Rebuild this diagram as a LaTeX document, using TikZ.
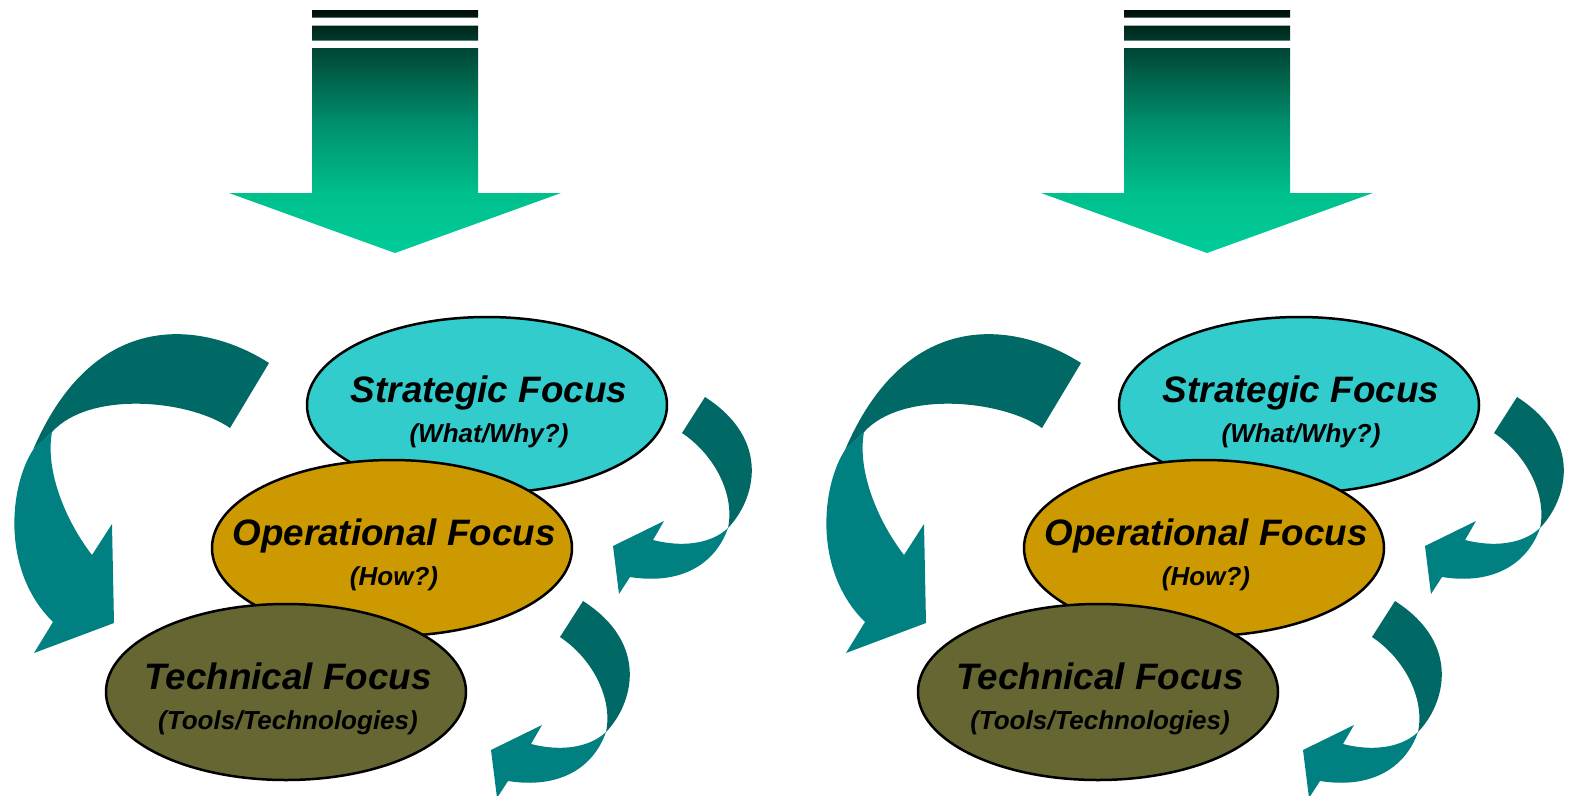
\documentclass[tikz,border=0pt]{standalone}
\usepackage{fontspec}
\setmainfont{Liberation Sans}
\usetikzlibrary{shapes.geometric}
\definecolor{stratfill}{HTML}{33CCCC}
\definecolor{operfill}{HTML}{CC9900}
\definecolor{techfill}{HTML}{666633}
\definecolor{loopdark}{HTML}{006966}
\definecolor{looplight}{HTML}{008080}
\definecolor{droptip}{HTML}{00CC99}
\definecolor{dropmida}{HTML}{00C08C}
\definecolor{dropmidb}{HTML}{008E6C}
\definecolor{droptop}{HTML}{004535}
\definecolor{dropbar}{HTML}{00100A}
\pgfdeclareverticalshading{dropshade}{100bp}{color(0bp)=(droptip); color(25bp)=(droptip); color(37.3bp)=(dropmida); color(52bp)=(dropmidb); color(67.2bp)=(droptop); color(75bp)=(dropbar); color(100bp)=(dropbar)}
\tikzset{
  focus/.style={ellipse, draw, line width=2.5pt, minimum width=360pt, minimum height=176pt, inner sep=0pt},
  title/.style={anchor=base, inner sep=0pt, font=\fontsize{36.8}{40}\selectfont\bfseries\itshape},
  subtitle/.style={anchor=base, inner sep=0pt, font=\fontsize{26}{30}\selectfont\bfseries\itshape},
  loopback/.style={fill=loopdark},
  loopfront/.style={fill=looplight}
}

\begin{document}
\begin{tikzpicture}[x=1pt, y=-1pt]
\useasboundingbox (0,0) rectangle (1570,795);

\foreach \s/\k in {0/l, 812/r}{
\begin{scope}[shift={(\s,0)}]
% drop arrow with its two bars
\shade[shading=dropshade] (312,10) rectangle (478,17.5) (312,25.5) rectangle (478,40.5)
  (312,48) -- (478,48) -- (478,193) -- (561,193) -- (395,253) -- (229,193) -- (312,193) -- cycle;

% big loop on the left
\fill[loopback] (269,363) .. controls (205,322) and (95,305) .. (33,450) -- (52,432)
  .. controls (90,390) and (190,400) .. (230,428) -- cycle;
\fill[loopfront] (33,450) .. controls (10,485) and (0,570) .. (53,622) -- (34,653) -- (114,623)
  -- (112,524) -- (92,555) .. controls (65,520) and (45,470) .. (52,432) -- cycle;

% small loops on the right
\foreach \dx/\dy in {0/0, -122/204}{
  \fill[loopback, shift={(\dx,\dy)}] (705,397) -- (682,433) .. controls (715,455) and (735,495) .. (728,528)
    .. controls (755,500) and (772,440) .. (705,397) -- cycle;
  \fill[loopfront, shift={(\dx,\dy)}] (728,528) .. controls (715,565) and (680,585) .. (630,577)
    -- (619,594) -- (613,546) -- (664,521) -- (653,540) .. controls (680,547) and (710,545) .. (728,528) -- cycle;
}

% focus ellipses, back to front
\node[focus, fill=stratfill] (strat\k) at (487,405) {};
\node[title] (strattitle\k) at (489,402) {Strategic Focus};
\node[subtitle] (stratsub\k) at (489,442) {(What/Why?)};

\node[focus, fill=operfill] (oper\k) at (392,548) {};
\node[title] (opertitle\k) at (394,545) {Operational Focus};
\node[subtitle] (opersub\k) at (394,585) {(How?)};

\node[focus, fill=techfill] (tech\k) at (286,692) {};
\node[title] (techtitle\k) at (288,689) {Technical Focus};
\node[subtitle] (techsub\k) at (288,729) {(Tools/Technologies)};
\end{scope}
}
\end{tikzpicture}
\end{document}
